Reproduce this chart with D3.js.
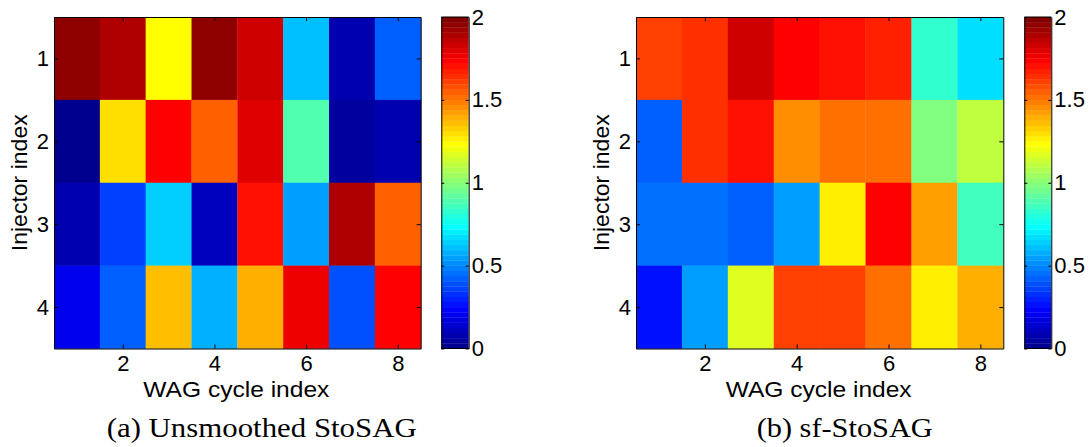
<!DOCTYPE html>
<html>
<head>
<meta charset="utf-8">
<script src="https://cdn.jsdelivr.net/npm/d3@7"></script>
<style>
  body { margin: 0; background: #fff; }
  svg { display: block; }
  .ax text, .lbl { font-family: "Liberation Sans", Arial, Helvetica, sans-serif; font-size: 22px; fill: #000; }
  .cap { font-family: "Liberation Serif", "DejaVu Serif", serif; font-size: 28px; fill: #000; }
  .ax path, .ax line { stroke: #000; stroke-width: 1; }
</style>
</head>
<body>
<svg id="fig" width="1092" height="447"></svg>
<script>
// WAG cycles (columns) and injectors (rows)
const cycles = [1, 2, 3, 4, 5, 6, 7, 8];
const injectors = [1, 2, 3, 4];
const xTickValues = [2, 4, 6, 8];
const yTickValues = [1, 2, 3, 4];
const colorTickValues = [0, 0.5, 1, 1.5, 2];
const colorTickLabels = ["0", "0.5", "1", "1.5", "2"];
const colorDomain = [0, 2];

// Control values per injector (row) and WAG cycle (column)
const unsmoothed = [
  [1.95, 1.89, 1.23, 1.95, 1.83, 0.61, 0.08, 0.42],
  [0.02, 1.30, 1.73, 1.55, 1.80, 0.89, 0.05, 0.08],
  [0.08, 0.36, 0.64, 0.11, 1.70, 0.55, 1.89, 1.55],
  [0.20, 0.42, 1.36, 0.58, 1.39, 1.77, 0.39, 1.73]
];
const sfStoSAG = [
  [1.61, 1.64, 1.83, 1.73, 1.70, 1.67, 0.83, 0.67],
  [0.42, 1.64, 1.70, 1.45, 1.52, 1.52, 0.98, 1.11],
  [0.45, 0.45, 0.42, 0.55, 1.27, 1.73, 1.42, 0.86],
  [0.27, 0.55, 1.17, 1.61, 1.61, 1.52, 1.27, 1.39]
];
const captions = ["(a) Unsmoothed StoSAG", "(b) sf-StoSAG"];
const xLabel = "WAG cycle index";
const yLabel = "Injector index";

// MATLAB-style jet colormap with n entries
function jetColormap(n) {
  const q = Math.ceil(n / 4);
  const u = [];
  for (let i = 1; i <= q; i++) u.push(i / q);
  for (let i = 1; i < q; i++) u.push(1);
  for (let i = q; i >= 1; i--) u.push(i / q);
  const g0 = Math.ceil(q / 2) - (n % 4 === 1 ? 1 : 0);
  const cols = Array.from({ length: n }, () => [0, 0, 0]);
  u.forEach((v, k) => {
    const g = g0 + k + 1;       // 1-based
    const r = g + q, b = g - q;
    if (g >= 1 && g <= n) cols[g - 1][1] = v;
    if (r >= 1 && r <= n) cols[r - 1][0] = v;
    if (b >= 1 && b <= n) cols[b - 1][2] = v;
  });
  return cols.map(c => d3.rgb(c[0] * 255, c[1] * 255, c[2] * 255).formatHex());
}
const jet = jetColormap(64);
const color = d3.scaleQuantize().domain(colorDomain).range(jet);

const svg = d3.select("#fig");

const panels = [
  { data: unsmoothed, caption: captions[0], capLen: 310, x0: 54, x1: 420.7, cb0: 441.3, cb1: 468.7, ylabX: 27, capX: 261.7 },
  { data: sfStoSAG,   caption: captions[1], capLen: 176, x0: 636, x1: 1003.3, cb0: 1024.3, cb1: 1051.3, ylabX: 608.5, capX: 844.7 }
];
const plotTop = 17, plotBottom = 348.5;

panels.forEach(p => {
  const g = svg.append("g");
  const x = d3.scaleLinear().domain([0.5, cycles.length + 0.5]).range([p.x0, p.x1]);
  const y = d3.scaleLinear().domain([0.5, injectors.length + 0.5]).range([plotTop, plotBottom]);

  // heatmap cells
  const cells = [];
  p.data.forEach((row, r) => row.forEach((v, c) => cells.push({ inj: injectors[r], cyc: cycles[c], v })));
  g.selectAll("rect.cell").data(cells).join("rect")
    .attr("class", "cell")
    .attr("x", d => x(d.cyc - 0.5))
    .attr("y", d => y(d.inj - 0.5))
    .attr("width", d => x(d.cyc + 0.5) - x(d.cyc - 0.5) + 0.3)
    .attr("height", d => y(d.inj + 0.5) - y(d.inj - 0.5) + 0.3)
    .attr("fill", d => color(d.v));

  // axes with inward ticks on all four sides
  g.append("g").attr("class", "ax").attr("transform", `translate(0,${plotBottom})`)
    .call(d3.axisBottom(x).tickValues(xTickValues).tickSizeInner(-4).tickSizeOuter(0).tickPadding(7).tickFormat(d3.format("d")));
  g.append("g").attr("class", "ax").attr("transform", `translate(0,${plotTop})`)
    .call(d3.axisTop(x).tickValues(xTickValues).tickSizeInner(-4).tickSizeOuter(0).tickFormat(""));
  g.append("g").attr("class", "ax").attr("transform", `translate(${p.x0},0)`)
    .call(d3.axisLeft(y).tickValues(yTickValues).tickSizeInner(-4).tickSizeOuter(0).tickPadding(5).tickFormat(d3.format("d")));
  g.append("g").attr("class", "ax").attr("transform", `translate(${p.x1},0)`)
    .call(d3.axisRight(y).tickValues(yTickValues).tickSizeInner(-4).tickSizeOuter(0).tickFormat(""));

  // axis titles
  g.append("text").attr("class", "lbl")
    .attr("x", (p.x0 + p.x1) / 2 - 1).attr("y", 397)
    .attr("text-anchor", "middle")
    .attr("textLength", 186).attr("lengthAdjust", "spacingAndGlyphs")
    .text(xLabel);
  g.append("text").attr("class", "lbl")
    .attr("transform", `translate(${p.ylabX},${(plotTop + plotBottom) / 2}) rotate(-90)`)
    .attr("text-anchor", "middle")
    .attr("textLength", 137).attr("lengthAdjust", "spacingAndGlyphs")
    .text(yLabel);

  // colorbar
  const cy = d3.scaleLinear().domain(colorDomain).range([plotBottom, plotTop]);
  const step = (colorDomain[1] - colorDomain[0]) / jet.length;
  g.selectAll("rect.cb").data(jet).join("rect")
    .attr("class", "cb")
    .attr("x", p.cb0)
    .attr("width", p.cb1 - p.cb0)
    .attr("y", (d, i) => cy(colorDomain[0] + (i + 1) * step))
    .attr("height", (d, i) => cy(colorDomain[0] + i * step) - cy(colorDomain[0] + (i + 1) * step) + 0.3)
    .attr("fill", d => d);
  g.append("g").attr("class", "ax").attr("transform", `translate(${p.cb1},0)`)
    .call(d3.axisRight(cy).tickValues(colorTickValues).tickSizeInner(-3).tickSizeOuter(0).tickPadding(3)
      .tickFormat((d, i) => colorTickLabels[i]));
  g.append("g").attr("class", "ax").attr("transform", `translate(${p.cb0},0)`)
    .call(d3.axisLeft(cy).tickValues(colorTickValues).tickSizeInner(-3).tickSizeOuter(0).tickFormat(""));
  g.append("line").attr("x1", p.cb0).attr("x2", p.cb1).attr("y1", plotTop).attr("y2", plotTop).attr("stroke", "#000");
  g.append("line").attr("x1", p.cb0).attr("x2", p.cb1).attr("y1", plotBottom).attr("y2", plotBottom).attr("stroke", "#000");

  // subfigure caption
  g.append("text").attr("class", "cap")
    .attr("x", p.capX).attr("y", 436.5)
    .attr("text-anchor", "middle")
    .attr("textLength", p.capLen).attr("lengthAdjust", "spacingAndGlyphs")
    .text(p.caption);
});
</script>
</body>
</html>
